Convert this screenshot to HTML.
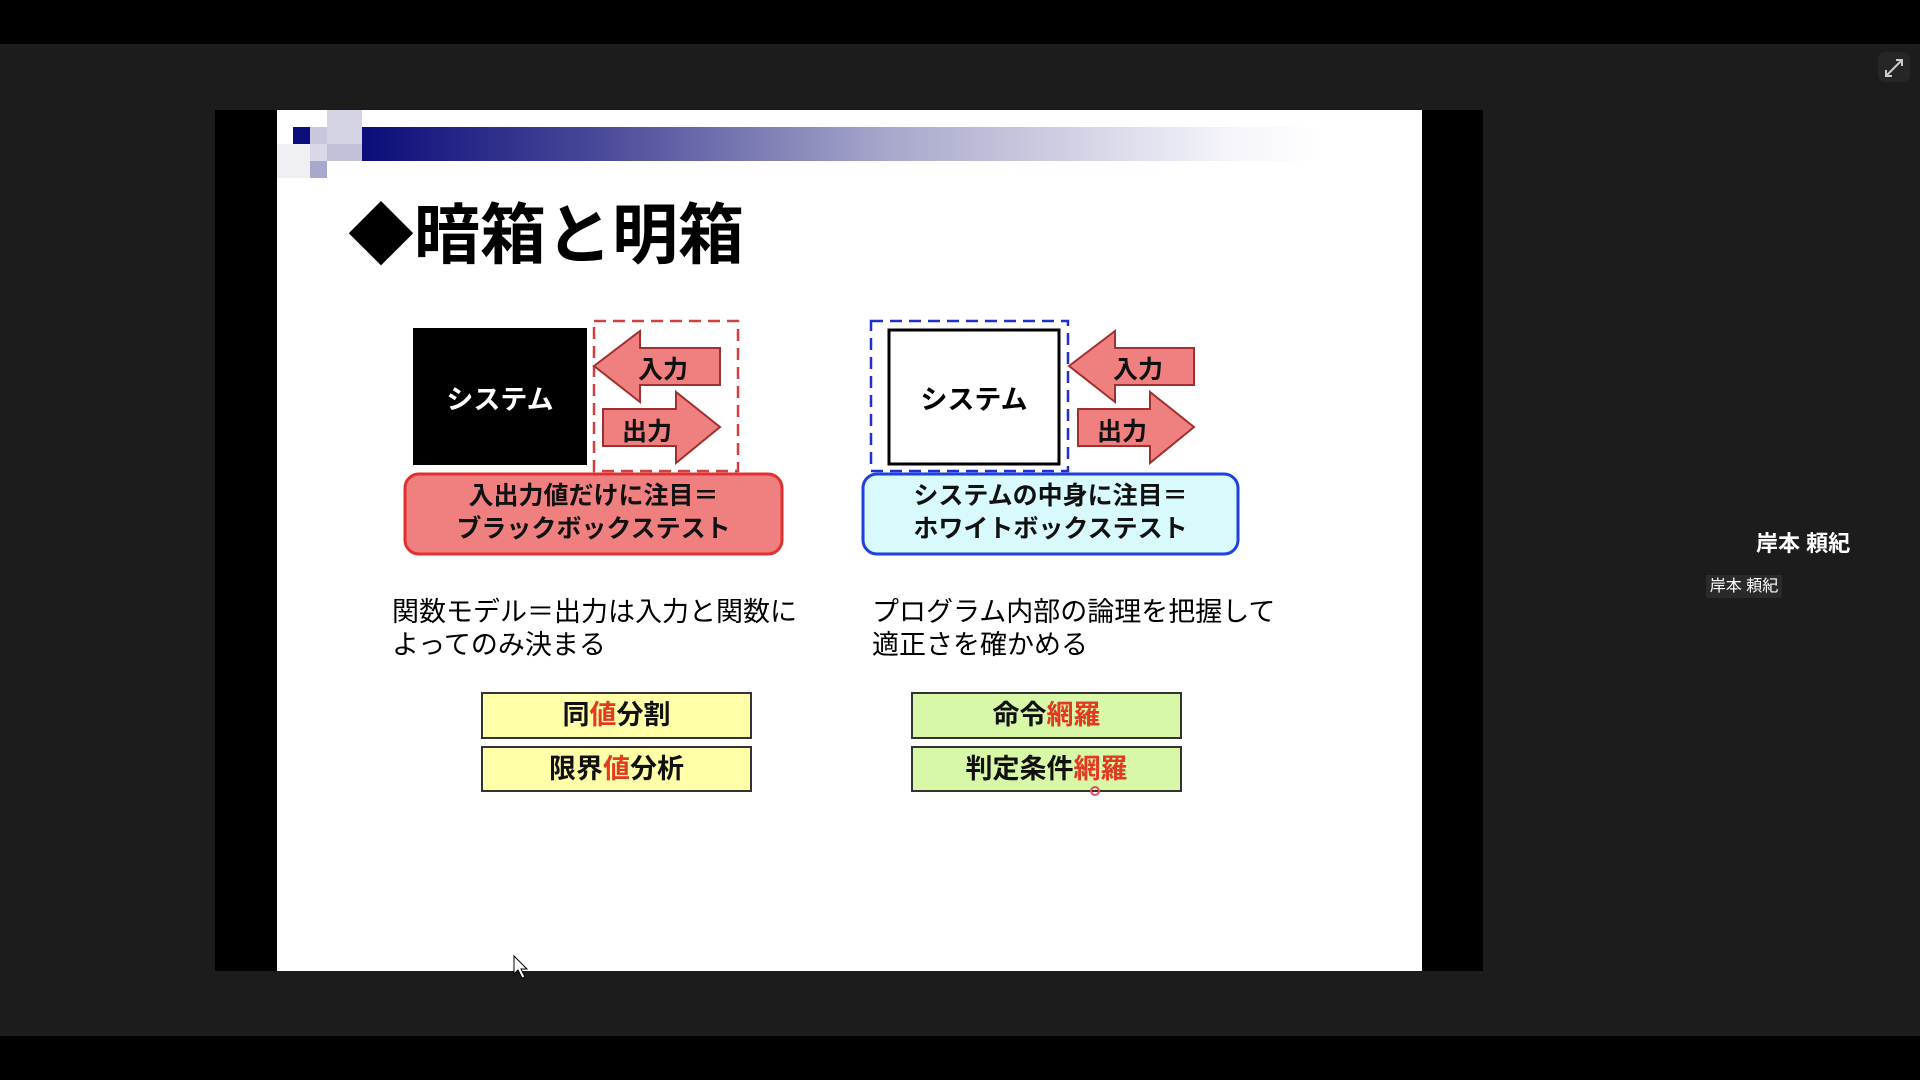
<!DOCTYPE html>
<html><head><meta charset="utf-8"><style>
body{margin:0;width:1920px;height:1080px;background:#1c1c1c;position:relative;overflow:hidden;font-family:"Liberation Sans","Noto Sans CJK JP",sans-serif;}
.a{position:absolute}
.t{position:absolute;white-space:nowrap;color:#111;font-weight:bold}
.r{color:#e03a20}
</style></head><body>
<div class="a" style="left:0;top:0;width:1920px;height:44px;background:#000"></div>
<div class="a" style="left:0;top:1036px;width:1920px;height:44px;background:#000"></div>
<div class="a" style="left:215px;top:110px;width:1268px;height:861px;background:#000"></div>
<div class="a" style="left:277px;top:110px;width:1145px;height:861px;background:#fff"></div>
<div class="a" style="left:362px;top:127px;width:960px;height:34px;background:linear-gradient(90deg,#0c0c7a 0%,#4a4a9a 25%,#a8a8cc 55%,#f4f4fa 90%,#fff 100%)"></div>
<div class="a" style="left:293px;top:127px;width:17px;height:17px;background:#0c0c7a"></div>
<div class="a" style="left:310px;top:127px;width:17px;height:17px;background:#c8c8dc"></div>
<div class="a" style="left:327px;top:110px;width:35px;height:34px;background:#d4d4e4"></div>
<div class="a" style="left:310px;top:144px;width:17px;height:17px;background:#d8d8e8"></div>
<div class="a" style="left:327px;top:144px;width:35px;height:17px;background:#c0c0d8"></div>
<div class="a" style="left:310px;top:161px;width:17px;height:17px;background:#a8a8cc"></div>
<div class="a" style="left:277px;top:144px;width:33px;height:34px;background:#f0f0f4"></div>
<div class="t" style="left:348px;top:193px;font-size:66px;line-height:84px;color:#000">◆暗箱と明箱</div>

<svg class="a" style="left:0;top:0" width="1920" height="1080">
<rect x="413" y="328" width="174" height="137" fill="#000"/>
<rect x="594" y="321" width="144" height="150" fill="none" stroke="#d04040" stroke-width="2.5" stroke-dasharray="12,7"/>
<polygon points="594,366 640,331 640,348 720,348 720,385 640,385 640,402" fill="#f08080" stroke="#a03030" stroke-width="2"/>
<polygon points="603,409 676,409 676,392 720,427 676,463 676,446 603,446" fill="#f08080" stroke="#a03030" stroke-width="2"/>
<rect x="405" y="474" width="377" height="80" rx="14" fill="#f08080" stroke="#e03030" stroke-width="3"/>
<rect x="871" y="321" width="197" height="150" fill="none" stroke="#2030d0" stroke-width="2.5" stroke-dasharray="12,7"/>
<rect x="889" y="330" width="170" height="134" fill="#fff" stroke="#000" stroke-width="3"/>
<polygon points="1069,366 1115,331 1115,348 1194,348 1194,385 1115,385 1115,402" fill="#f08080" stroke="#a03030" stroke-width="2"/>
<polygon points="1078,409 1150,409 1150,392 1194,427 1150,463 1150,446 1078,446" fill="#f08080" stroke="#a03030" stroke-width="2"/>
<rect x="863" y="474" width="375" height="80" rx="14" fill="#d8fafc" stroke="#2040e0" stroke-width="3"/>
<rect x="482" y="693" width="269" height="45" fill="#ffffa8" stroke="#333" stroke-width="2"/>
<rect x="482" y="747" width="269" height="44" fill="#ffffa8" stroke="#333" stroke-width="2"/>
<rect x="912" y="693" width="269" height="45" fill="#d8f8a8" stroke="#333" stroke-width="2"/>
<rect x="912" y="747" width="269" height="44" fill="#d8f8a8" stroke="#333" stroke-width="2"/>
<circle cx="1095" cy="791" r="4" fill="none" stroke="#e05050" stroke-width="2"/>
<path d="M514,956 L514,974 L518,970 L522,978 L525,977 L521,969 L527,969 Z" fill="#fff" stroke="#000" stroke-width="1"/>
<rect x="1878" y="52" width="32" height="30" rx="7" fill="#262626"/>
<path d="M1886,76 L1902,60 M1896,60 L1902,60 L1902,66 M1886,70 L1886,76 L1892,76" stroke="#ccc" stroke-width="2" fill="none"/>
</svg>

<div class="t" style="left:413px;top:378px;width:174px;text-align:center;color:#fff;font-size:27px;font-weight:bold">システム</div>
<div class="t" style="left:889px;top:378px;width:170px;text-align:center;font-size:27px;color:#000">システム</div>
<div class="t" style="left:638px;top:350px;font-size:25px">入力</div>
<div class="t" style="left:622px;top:412px;font-size:25px">出力</div>
<div class="t" style="left:1113px;top:350px;font-size:25px">入力</div>
<div class="t" style="left:1097px;top:412px;font-size:25px">出力</div>
<div class="t" style="left:405px;top:480px;width:377px;text-align:center;font-size:25px;line-height:33px">入出力値だけに注目＝<br>ブラックボックステスト</div>
<div class="t" style="left:863px;top:480px;width:375px;text-align:center;font-size:25px;line-height:33px">システムの中身に注目＝<br>ホワイトボックステスト</div>
<div class="t" style="left:392px;top:596px;font-size:27px;line-height:33px;font-weight:normal;color:#000">関数モデル＝出力は入力と関数に<br>よってのみ決まる</div>
<div class="t" style="left:872px;top:596px;font-size:27px;line-height:33px;font-weight:normal;color:#000">プログラム内部の論理を把握して<br>適正さを確かめる</div>
<div class="t" style="left:482px;top:697px;width:269px;text-align:center;font-size:27px;line-height:36px">同<span class="r">値</span>分割</div>
<div class="t" style="left:482px;top:751px;width:269px;text-align:center;font-size:27px;line-height:36px">限界<span class="r">値</span>分析</div>
<div class="t" style="left:912px;top:697px;width:269px;text-align:center;font-size:27px;line-height:36px">命令<span class="r">網羅</span></div>
<div class="t" style="left:912px;top:751px;width:269px;text-align:center;font-size:27px;line-height:36px">判定条件<span class="r">網羅</span></div>

<div class="t" style="left:1756px;top:526px;font-size:22px;color:#fff">岸本 頼紀</div>
<div class="a" style="left:1706px;top:575px;width:76px;height:23px;background:#2a2a2a;color:#fff;font-size:16px;line-height:23px;text-align:center;white-space:nowrap">岸本 頼紀</div>
</body></html>
